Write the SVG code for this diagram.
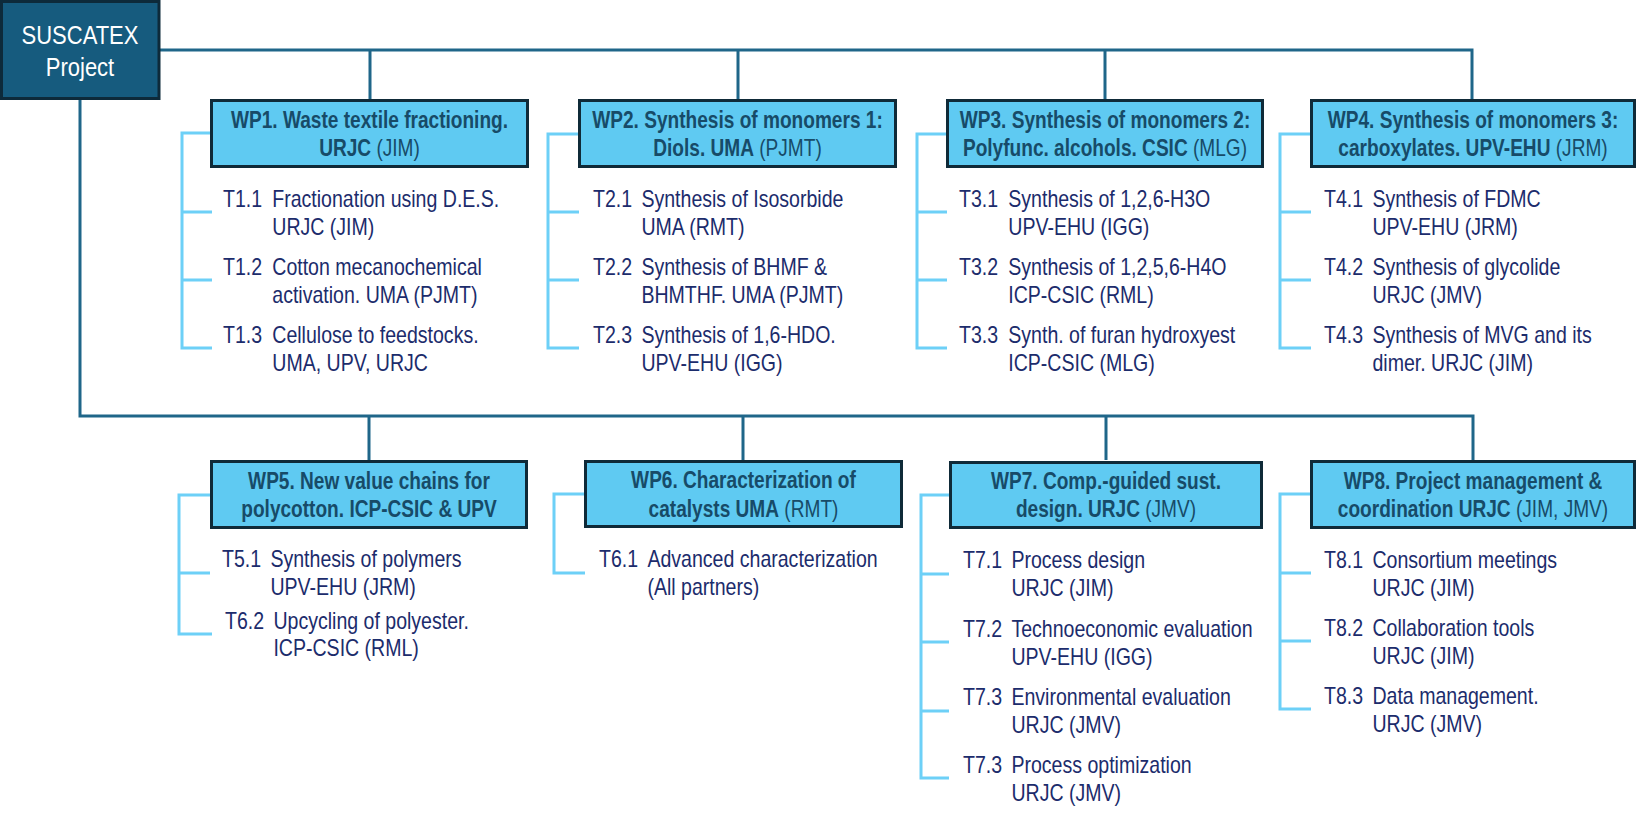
<svg xmlns="http://www.w3.org/2000/svg" width="1637" height="822" viewBox="0 0 1637 822">
<style>
.bg{fill:#ffffff}
.root{fill:#165b7e;stroke:#0d2a3a;stroke-width:3}
.wp{fill:#5fcaf2;stroke:#0f2a38;stroke-width:3}
.dark{fill:none;stroke:#1f6689;stroke-width:3}
.light{fill:none;stroke:#6dd0f7;stroke-width:3}
.rt{font-family:"Liberation Sans",Arial,sans-serif;font-size:25px;fill:#ffffff;text-anchor:middle}
.tt{font-family:"Liberation Sans",Arial,sans-serif;font-size:23px;fill:#174b68;text-anchor:middle}
.b{font-weight:bold}
.tk{font-family:"Liberation Sans",Arial,sans-serif;font-size:23px;fill:#1c2c6c}
</style>
<rect class="bg" x="0" y="0" width="1637" height="822"/>
<g id="connectors">
<path class="dark" d="M160,50 H1472 V99 M370,50 V99 M738,50 V99 M1105,50 V99"/>
<path class="dark" d="M80,100 V416 H1473 V460 M369,416 V460 M743,416 V460 M1106,416 V460"/>
<path class="light" d="M211,133 H182 V348 H212 M182,212 H212 M182,280 H212"/>
<path class="light" d="M579,134 H548 V348 H579 M548,212 H579 M548,280 H579"/>
<path class="light" d="M947,134 H917 V348 H947 M917,212 H947 M917,280 H947"/>
<path class="light" d="M1311,134 H1280 V348 H1311 M1280,212 H1311 M1280,280 H1311"/>
<path class="light" d="M211,495 H179 V634 H212 M179,573 H210"/>
<path class="light" d="M585,494 H554 V573 H585"/>
<path class="light" d="M950,495 H921 V778 H949 M921,574 H949 M921,642 H949 M921,711 H949"/>
<path class="light" d="M1311,494 H1280 V709 H1311 M1280,573 H1311 M1280,641 H1311"/>
</g>
<g id="root">
<rect class="root" x="1.5" y="1.5" width="157.5" height="97"/>
<text class="rt" transform="translate(80,44) scale(0.88,1)">SUSCATEX</text>
<text class="rt" transform="translate(80,76) scale(0.88,1)">Project</text>
</g>
<g id="wp1">
<rect class="wp" x="211.5" y="100.5" width="316" height="66"/>
<text class="tt b" transform="translate(369.5,128) scale(0.83,1)">WP1. Waste textile fractioning.</text>
<text class="tt" transform="translate(369.5,156) scale(0.83,1)"><tspan class="b">URJC</tspan> (JIM)</text>
<text class="tk" transform="translate(223,207) scale(0.85,1)"><tspan x="0">T1.1</tspan><tspan x="58">Fractionation using D.E.S.</tspan><tspan x="58" dy="28">URJC (JIM)</tspan></text>
<text class="tk" transform="translate(223,275) scale(0.85,1)"><tspan x="0">T1.2</tspan><tspan x="58">Cotton mecanochemical</tspan><tspan x="58" dy="28">activation. UMA (PJMT)</tspan></text>
<text class="tk" transform="translate(223,343) scale(0.85,1)"><tspan x="0">T1.3</tspan><tspan x="58">Cellulose  to feedstocks.</tspan><tspan x="58" dy="28">UMA, UPV, URJC</tspan></text>
</g>
<g id="wp2">
<rect class="wp" x="579.5" y="100.5" width="316" height="66"/>
<text class="tt b" transform="translate(737.5,128) scale(0.83,1)">WP2. Synthesis of monomers 1:</text>
<text class="tt" transform="translate(737.5,156) scale(0.83,1)"><tspan class="b">Diols. UMA</tspan> (PJMT)</text>
<text class="tk" transform="translate(593,207) scale(0.85,1)"><tspan x="0">T2.1</tspan><tspan x="57">Synthesis of Isosorbide</tspan><tspan x="57" dy="28">UMA (RMT)</tspan></text>
<text class="tk" transform="translate(593,275) scale(0.85,1)"><tspan x="0">T2.2</tspan><tspan x="57">Synthesis of BHMF &amp;</tspan><tspan x="57" dy="28">BHMTHF. UMA (PJMT)</tspan></text>
<text class="tk" transform="translate(593,343) scale(0.85,1)"><tspan x="0">T2.3</tspan><tspan x="57">Synthesis of 1,6-HDO.</tspan><tspan x="57" dy="28">UPV-EHU (IGG)</tspan></text>
</g>
<g id="wp3">
<rect class="wp" x="947.5" y="100.5" width="315" height="66"/>
<text class="tt b" transform="translate(1105,128) scale(0.83,1)">WP3. Synthesis of monomers 2:</text>
<text class="tt" transform="translate(1105,156) scale(0.83,1)"><tspan class="b">Polyfunc. alcohols. CSIC</tspan> (MLG)</text>
<text class="tk" transform="translate(959,207) scale(0.85,1)"><tspan x="0">T3.1</tspan><tspan x="58">Synthesis of 1,2,6-H3O</tspan><tspan x="58" dy="28">UPV-EHU (IGG)</tspan></text>
<text class="tk" transform="translate(959,275) scale(0.85,1)"><tspan x="0">T3.2</tspan><tspan x="58">Synthesis of 1,2,5,6-H4O</tspan><tspan x="58" dy="28">ICP-CSIC (RML)</tspan></text>
<text class="tk" transform="translate(959,343) scale(0.85,1)"><tspan x="0">T3.3</tspan><tspan x="58">Synth. of furan hydroxyest</tspan><tspan x="58" dy="28">ICP-CSIC (MLG)</tspan></text>
</g>
<g id="wp4">
<rect class="wp" x="1311.5" y="100.5" width="323" height="66"/>
<text class="tt b" transform="translate(1473,128) scale(0.83,1)">WP4. Synthesis of monomers 3:</text>
<text class="tt" transform="translate(1473,156) scale(0.83,1)"><tspan class="b">carboxylates. UPV-EHU</tspan> (JRM)</text>
<text class="tk" transform="translate(1324,207) scale(0.85,1)"><tspan x="0">T4.1</tspan><tspan x="57">Synthesis of FDMC</tspan><tspan x="57" dy="28">UPV-EHU (JRM)</tspan></text>
<text class="tk" transform="translate(1324,275) scale(0.85,1)"><tspan x="0">T4.2</tspan><tspan x="57">Synthesis of glycolide</tspan><tspan x="57" dy="28">URJC (JMV)</tspan></text>
<text class="tk" transform="translate(1324,343) scale(0.85,1)"><tspan x="0">T4.3</tspan><tspan x="57">Synthesis of MVG and its</tspan><tspan x="57" dy="28">dimer. URJC (JIM)</tspan></text>
</g>
<g id="wp5">
<rect class="wp" x="211.5" y="461.5" width="315" height="66"/>
<text class="tt b" transform="translate(369,489) scale(0.83,1)">WP5. New value chains for</text>
<text class="tt b" transform="translate(369,517) scale(0.83,1)">polycotton. ICP-CSIC &amp; UPV</text>
<text class="tk" transform="translate(222,567) scale(0.85,1)"><tspan x="0">T5.1</tspan><tspan x="57">Synthesis of polymers</tspan><tspan x="57" dy="28">UPV-EHU (JRM)</tspan></text>
<text class="tk" transform="translate(225,629) scale(0.85,1)"><tspan x="0">T6.2</tspan><tspan x="57">Upcycling of polyester.</tspan><tspan x="57" dy="27">ICP-CSIC (RML)</tspan></text>
</g>
<g id="wp6">
<rect class="wp" x="585.5" y="461.5" width="316" height="65"/>
<text class="tt b" transform="translate(743.5,488) scale(0.83,1)">WP6. Characterization of</text>
<text class="tt" transform="translate(743.5,517) scale(0.83,1)"><tspan class="b">catalysts UMA</tspan> (RMT)</text>
<text class="tk" transform="translate(599,567) scale(0.85,1)"><tspan x="0">T6.1</tspan><tspan x="57">Advanced characterization</tspan><tspan x="57" dy="28">(All partners)</tspan></text>
</g>
<g id="wp7">
<rect class="wp" x="950.5" y="462.5" width="311" height="65"/>
<text class="tt b" transform="translate(1106,489) scale(0.83,1)">WP7. Comp.-guided sust.</text>
<text class="tt" transform="translate(1106,517) scale(0.83,1)"><tspan class="b">design. URJC</tspan> (JMV)</text>
<text class="tk" transform="translate(963,568) scale(0.85,1)"><tspan x="0">T7.1</tspan><tspan x="57">Process design</tspan><tspan x="57" dy="28">URJC (JIM)</tspan></text>
<text class="tk" transform="translate(963,637) scale(0.85,1)"><tspan x="0">T7.2</tspan><tspan x="57">Technoeconomic evaluation</tspan><tspan x="57" dy="28">UPV-EHU (IGG)</tspan></text>
<text class="tk" transform="translate(963,705) scale(0.85,1)"><tspan x="0">T7.3</tspan><tspan x="57">Environmental  evaluation</tspan><tspan x="57" dy="28">URJC (JMV)</tspan></text>
<text class="tk" transform="translate(963,773) scale(0.85,1)"><tspan x="0">T7.3</tspan><tspan x="57">Process optimization</tspan><tspan x="57" dy="28">URJC (JMV)</tspan></text>
</g>
<g id="wp8">
<rect class="wp" x="1311.5" y="461.5" width="323" height="66"/>
<text class="tt b" transform="translate(1473,489) scale(0.83,1)">WP8. Project management &amp;</text>
<text class="tt" transform="translate(1473,517) scale(0.83,1)"><tspan class="b">coordination URJC</tspan> (JIM, JMV)</text>
<text class="tk" transform="translate(1324,568) scale(0.85,1)"><tspan x="0">T8.1</tspan><tspan x="57">Consortium  meetings</tspan><tspan x="57" dy="28">URJC (JIM)</tspan></text>
<text class="tk" transform="translate(1324,636) scale(0.85,1)"><tspan x="0">T8.2</tspan><tspan x="57">Collaboration  tools</tspan><tspan x="57" dy="28">URJC (JIM)</tspan></text>
<text class="tk" transform="translate(1324,704) scale(0.85,1)"><tspan x="0">T8.3</tspan><tspan x="57">Data management.</tspan><tspan x="57" dy="28">URJC (JMV)</tspan></text>
</g>
</svg>
